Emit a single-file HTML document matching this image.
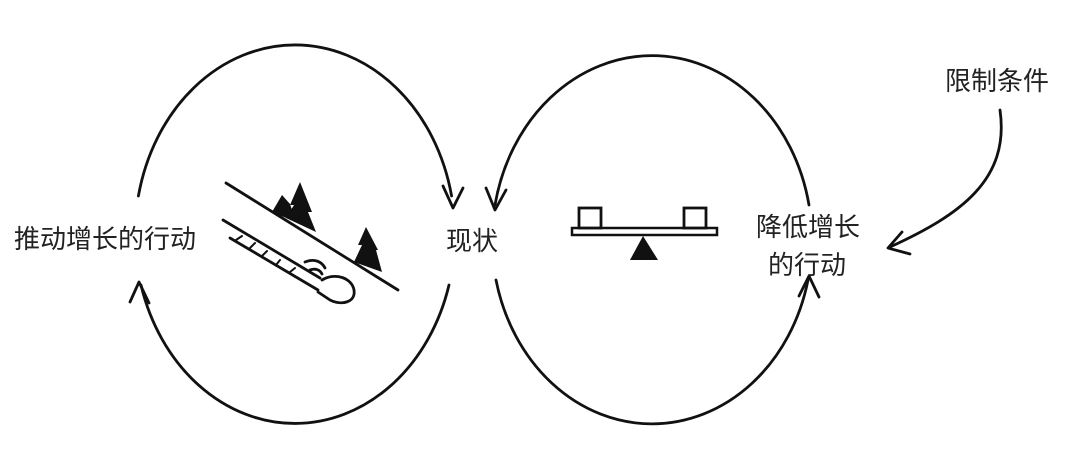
<!DOCTYPE html>
<html><head><meta charset="utf-8"><style>
html,body{margin:0;padding:0;background:#fff;}
svg{display:block;}
text{font-family:"Liberation Sans","Noto Sans CJK SC",sans-serif;fill:#222;font-size:26px;}
</style></head><body>
<svg width="1082" height="466" viewBox="0 0 1082 466">
<g fill="none" stroke="#111" stroke-width="2.8" stroke-linecap="round" stroke-linejoin="round">
  <path d="M138.4,196 A160,190 0 0 1 451.6,196"/>
  <path d="M443,186 L453,208 L463,188"/>
  <path d="M449,285 A160,190 0 0 1 141,285"/>
  <path d="M130,302 L139,282 L149,303"/>
  <path d="M809,205 A160,185 0 0 0 495,205"/>
  <path d="M486,188 L495,210 L506,190"/>
  <path d="M496,280 A160,185 0 0 0 808,280"/>
  <path d="M799,296 L809,276 L819,297"/>
  <path d="M1000,110 C1010,180 960,215 890,247"/>
  <path d="M902,232 L888,248 L910,254"/>
  <g>
    <path d="M226,183 L398,290"/>
    <path d="M223,220 L320,278"/>
    <path d="M230,238 L318,290"/>
    <path d="M322,280 C335,272 352,278 354,290 C356,302 342,306 330,300 L318,292"/>
    <path d="M305,262 C315,258 322,262 325,268 M310,270 C316,268 320,270 322,274"/>
    <path d="M236,240 l6,-4 M250,248 l5,-5 M262,256 l5,-5 M276,265 l4,-5 M290,272 l5,-4" stroke-width="2"/>
  </g>
</g>
<g fill="#111">
  <polygon points="300,182 290,205 294,205 286,218 316,232 308,212 312,212" />
  <polygon points="282,195 272,212 296,222 290,204"/>
  <polygon points="366,227 358,245 362,245 354,262 382,272 376,250 378,250"/>
</g>
<g>
  <rect x="572" y="228" width="145" height="7" fill="#fff" stroke="#111" stroke-width="2.5"/>
  <rect x="579" y="208" width="22" height="20" fill="#fff" stroke="#111" stroke-width="2.8"/>
  <rect x="684" y="208" width="22" height="20" fill="#fff" stroke="#111" stroke-width="2.8"/>
  <polygon points="643,236 630,260 658,260" fill="#111"/>
</g>
<text x="14" y="248">推动增长的行动</text>
<text x="446" y="250">现状</text>
<text x="756" y="236">降低增长</text>
<text x="768" y="274">的行动</text>
<text x="945" y="90">限制条件</text>
</svg>
</body></html>
